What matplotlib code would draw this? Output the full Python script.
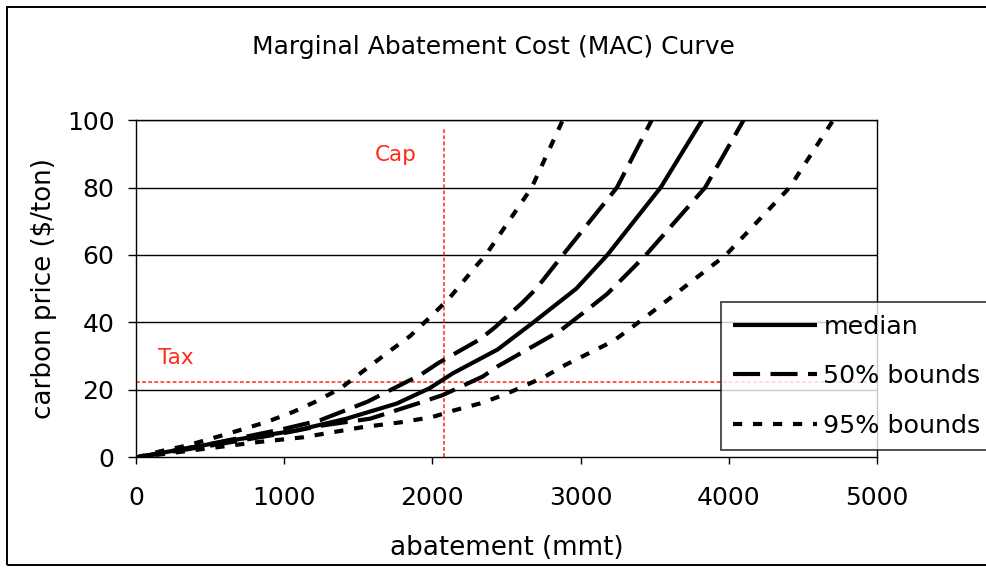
import matplotlib
matplotlib.use("Agg")
import matplotlib.pyplot as plt
from matplotlib.patches import Rectangle

# Marginal abatement cost curves: abatement (mmt) vs carbon price ($/ton)
median_x = [0, 630, 1080, 1420, 1760, 1980, 2140, 2440, 2680, 2970, 3180, 3540, 3820]
median_y = [0, 5, 8, 11.5, 16, 20.5, 25, 32, 40, 50, 60, 80, 100]

upper50_x = [0, 500, 1000, 1240, 1560, 1920, 2040, 2320, 2420, 2610, 2700,
             2880, 3245, 3480]
upper50_y = [0, 4, 8.5, 11, 16.5, 24.5, 28, 35, 38.5, 46, 50, 60, 80, 100]

lower50_x = [0, 500, 970, 1260, 1580, 1900, 2070, 2340, 2440, 2760, 2860, 3080,
             3180, 3350, 3440, 3840, 4100]
lower50_y = [0, 3.5, 7, 9.5, 11.5, 16, 18.5, 24, 27, 35, 37.5, 45, 48.5, 56, 60,
             80, 100]

upper95_x = [0, 180, 340, 500, 655, 880, 1060, 1210, 1380, 1530, 1710, 1850, 1970,
             2110, 2300, 2360, 2670, 2880]
upper95_y = [0, 2, 3.5, 5.5, 7.5, 10.5, 13.5, 16.5, 20.5, 25.5, 31.5, 36, 41, 47,
             57, 60, 80, 100]

lower95_x = [0, 810, 1130, 1530, 1800, 2000, 2150, 2320, 2480, 2610, 2760, 2900,
             3060, 3220, 3420, 3980, 4410, 4705]
lower95_y = [0, 4.5, 6, 9, 10.5, 12, 14, 16, 18.5, 21, 24, 27.5, 31, 34.5, 41, 60,
             80, 100]

cap_x = 2075
tax_y = 22.5

x_ticks = [0, 1000, 2000, 3000, 4000, 5000]
y_ticks = [0, 20, 40, 60, 80, 100]

plt.rcParams['font.family'] = ['DejaVu Sans']

fig = plt.figure(figsize=(9.87, 5.72), dpi=100)
# outer chart frame (runs off the right edge)
fig.patches.append(Rectangle((0.007, 0.012), 1.05, 0.976, transform=fig.transFigure,
                             fill=False, edgecolor='black', linewidth=1.4))

ax = fig.add_axes([0.1378, 0.2002, 0.7508, 0.5900])
ax.set_xlim(0, 5000)
ax.set_ylim(0, 100)

for y in y_ticks[1:]:
    ax.axhline(y, color='black', linewidth=1.0, zorder=1)

lw = 3.0
ax.plot(median_x, median_y, color='black', linewidth=lw, solid_capstyle='butt',
        label='median', zorder=3)
ax.plot(upper50_x, upper50_y, color='black', linewidth=lw, dashes=(6.5, 2.5),
        dash_capstyle='butt', label='50% bounds', zorder=3)
ax.plot(lower50_x, lower50_y, color='black', linewidth=lw, dashes=(6.5, 2.5),
        dash_capstyle='butt', zorder=3)
ax.plot(upper95_x, upper95_y, color='black', linewidth=lw, dashes=(2.2, 2.6),
        dash_capstyle='butt', label='95% bounds', zorder=3)
ax.plot(lower95_x, lower95_y, color='black', linewidth=lw, dashes=(2.2, 2.6),
        dash_capstyle='butt', zorder=3)

ax.plot([0, 5000], [tax_y, tax_y], color='#ff2a1a', linewidth=1.1,
        dashes=(2.5, 1.5), zorder=2)
ax.plot([cap_x, cap_x], [0, 97.5], color='#ff2a1a', linewidth=1.1,
        dashes=(2.5, 1.5), zorder=2)
ax.text(1755, 89.7, 'Cap', color='#ff2a1a', fontsize=15.5, ha='center', va='center')
ax.text(270, 29.5, 'Tax', color='#ff2a1a', fontsize=15.5, ha='center', va='center')

ax.set_xticks(x_ticks)
ax.set_yticks(y_ticks)
ax.tick_params(axis='both', direction='out', width=1, labelsize=18, colors='black')
ax.tick_params(axis='x', length=5, pad=15.3)
ax.tick_params(axis='y', length=5.5, pad=10)
for s in ax.spines.values():
    s.set_linewidth(1.0)

ax.set_xlabel('abatement (mmt)', fontsize=18.8, labelpad=18.5)
ax.set_ylabel('carbon price ($/ton)', fontsize=18.8, labelpad=7)
fig.text(0.5, 0.918, 'Marginal Abatement Cost (MAC) Curve', fontsize=18,
         ha='center', va='center')

leg = ax.legend(loc='upper left', bbox_to_anchor=(0.789, 0.4607), fontsize=18.3,
                handlelength=3.3, handletextpad=0.24, labelspacing=1.0,
                frameon=True, fancybox=False, edgecolor='black', borderpad=0.5,
                borderaxespad=0)
leg.get_frame().set_linewidth(1.2)
leg.set_zorder(5)

fig.savefig('out.png', dpi=100)
